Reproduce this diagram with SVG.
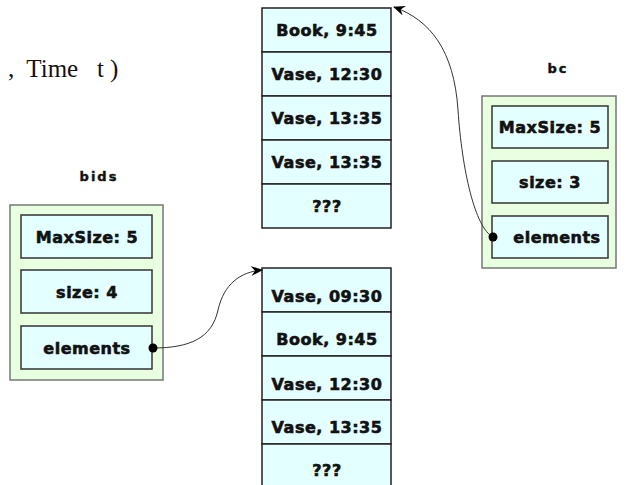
<svg xmlns="http://www.w3.org/2000/svg" width="634" height="485" viewBox="0 0 634 485">
<defs>
<style>
.cell{fill:#e4ffff;stroke:#222;stroke-width:1.5}
.outer{fill:#e8ffe0;stroke:#777;stroke-width:1.5}
.field{fill:#e4ffff;stroke:#333;stroke-width:1.5}
.t{font-family:"DejaVu Sans",sans-serif;font-weight:bold;font-size:16px;fill:#111;stroke:#111;stroke-width:0.6;letter-spacing:0.5px;text-anchor:middle;dominant-baseline:central}
.lbl{font-family:"DejaVu Sans",sans-serif;font-weight:bold;font-size:13px;fill:#111;stroke:#111;stroke-width:0.4;text-anchor:middle;letter-spacing:2px}
.conn{fill:none;stroke:#333;stroke-width:1}
.ser{font-family:"Liberation Serif",serif;font-size:25px;fill:#111}
</style>
<marker id="arr" viewBox="0 0 12 10" refX="11" refY="5" markerWidth="12" markerHeight="10" markerUnits="userSpaceOnUse" orient="auto">
<path d="M0,0 L12,5 L0,10 L4,5 z" fill="#000"/>
</marker>
</defs>
<rect width="634" height="485" fill="#fff"/>
<text class="ser" x="8" y="77" xml:space="preserve">,  Time   t )</text>

<g id="array1">
<rect class="cell" x="262" y="8" width="129" height="44"/>
<rect class="cell" x="262" y="52" width="129" height="44"/>
<rect class="cell" x="262" y="96" width="129" height="44"/>
<rect class="cell" x="262" y="140" width="129" height="44"/>
<rect class="cell" x="262" y="184" width="129" height="44"/>
<text class="t" x="327" y="30">Book, 9:45</text>
<text class="t" x="327" y="74">Vase, 12:30</text>
<text class="t" x="327" y="118">Vase, 13:35</text>
<text class="t" x="327" y="162">Vase, 13:35</text>
<text class="t" x="327" y="206">???</text>
</g>

<g id="array2">
<rect class="cell" x="262" y="268" width="129" height="44"/>
<rect class="cell" x="262" y="312" width="129" height="44"/>
<rect class="cell" x="262" y="356" width="129" height="44"/>
<rect class="cell" x="262" y="400" width="129" height="44"/>
<rect class="cell" x="262" y="444" width="129" height="44"/>
<text class="t" x="327" y="296">Vase, 09:30</text>
<text class="t" x="327" y="339">Book, 9:45</text>
<text class="t" x="327" y="384">Vase, 12:30</text>
<text class="t" x="327" y="427">Vase, 13:35</text>
<text class="t" x="327" y="470">???</text>
</g>

<g id="bc">
<text class="lbl" x="558" y="73">bc</text>
<rect class="outer" x="482" y="96" width="134" height="172"/>
<rect class="field" x="492" y="106" width="116" height="42"/>
<rect class="field" x="492" y="161" width="116" height="42"/>
<rect class="field" x="492" y="216" width="116" height="42"/>
<text class="t" x="550" y="127">MaxSize: 5</text>
<text class="t" x="550" y="182">size: 3</text>
<text class="t" x="557" y="237">elements</text>
</g>

<g id="bids">
<text class="lbl" x="99" y="181">bids</text>
<rect class="outer" x="10" y="205" width="153" height="175"/>
<rect class="field" x="21" y="215" width="131" height="43"/>
<rect class="field" x="21" y="270" width="131" height="43"/>
<rect class="field" x="21" y="326" width="131" height="43"/>
<text class="t" x="87" y="237">MaxSize: 5</text>
<text class="t" x="87" y="292">size: 4</text>
<text class="t" x="87" y="348">elements</text>
</g>

<g id="connectors">
<path class="conn" d="M153,348 C190,348 212,338 218,310 C224,284 240,272 262,270" marker-end="url(#arr)"/>
<circle cx="153" cy="348" r="4.5" fill="#000"/>
<path class="conn" d="M493,237 C475,228 462,170 458,110 C454,50 430,20 394,7" marker-end="url(#arr)"/>
<circle cx="493" cy="237" r="4.5" fill="#000"/>
</g>
</svg>
